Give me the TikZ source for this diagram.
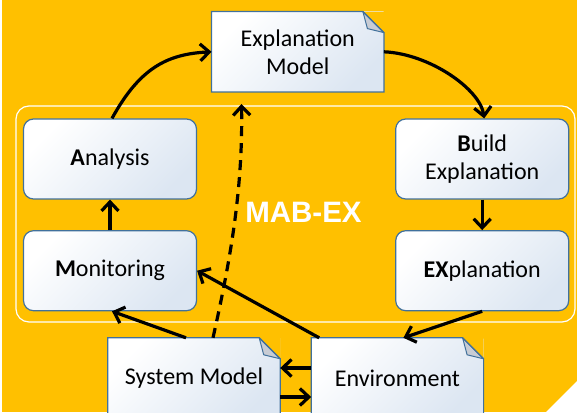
\documentclass[tikz,border=0pt]{standalone}
\usepackage{fontspec}
\setmainfont{Carlito}
\newfontfamily\mabfont{Liberation Sans}
\usetikzlibrary{arrows.meta}

\definecolor{bgorange}{RGB}{255,192,0}
\definecolor{boxline}{RGB}{65,113,156}
\definecolor{boxblue}{RGB}{220,230,242}
\definecolor{foldgrey}{RGB}{200,204,212}

\tikzset{
  box/.style={rectangle, rounded corners=10pt, draw=boxline, line width=1.2pt,
    top color=white, bottom color=boxblue, shading angle=45,
    minimum width=173pt, minimum height=80pt, inner sep=0pt, align=center,
    font=\fontsize{24}{28}\selectfont},
  doc/.style={rectangle, top color=white, bottom color=boxblue, shading angle=45,
    minimum width=172pt, minimum height=80pt, inner sep=0pt, align=center,
    font=\fontsize{24}{28}\selectfont},
  arr/.style={line width=3.2pt, -{Straight Barb[length=9pt,width=17pt]}},
}

\begin{document}
\begin{tikzpicture}[x=1pt,y=1pt]
\useasboundingbox (0,0) rectangle (577,412);
\clip (0,0) rectangle (577,412);

%Background
\fill[bgorange] (0,0) rectangle (577,412);
\fill[white] (0,0) rectangle (1.5,412);
\fill[white] (546,0) -- (577,31) -- (577,0) -- cycle;
%Frame of the loop
\draw[white, line width=1.2pt, rounded corners=13pt] (16,306) rectangle (575,90);

% Loop nodes
\draw (297.7,360.2) node (em) [doc] {Explanation\\Model};
\draw (110,253) node (ana) [box] {\textbf{A}nalysis};
\draw (110,141.3) node (mon) [box] {\textbf{M}onitoring};
\draw (482.2,253) node (bld) [box] {\textbf{B}uild\\Explanation};
\draw (482.2,141.3) node (expl) [box] {\textbf{EX}planation};
\draw (194,34) node (sm) [doc] {System Model};
\draw (397.4,34) node (env) [doc] {Environment};

%Document corners
\foreach \d in {em,sm,env}{
  \fill[bgorange] ([xshift=-21pt]\d.north east) -- (\d.north east) -- ([yshift=-21pt]\d.north east) -- cycle;
  \filldraw[fill=foldgrey, draw=boxline, line width=1pt, line join=round] ([xshift=-21pt]\d.north east) -- ([yshift=-21pt]\d.north east) -- ([xshift=-16.5pt,yshift=-17pt]\d.north east) -- cycle;
  \draw[boxline, line width=1.2pt] (\d.south west) -- (\d.north west) -- ([xshift=-21pt]\d.north east) -- ([yshift=-21pt]\d.north east) -- (\d.south east) -- cycle;
}

% Text Node
\draw (303.5,199.5) node (mab) [font=\mabfont\bfseries\fontsize{29.5}{30}\selectfont, text=white] {MAB-EX};

%Arrows of the loop
\draw[arr] ([xshift=2pt]ana.north) .. controls +(28,51) and +(-43.7,-2.2) .. (em.west);
\draw[arr] (em.east) .. controls +(46,-2) and +(-4,29) .. ([xshift=2pt]bld.north);
\draw[arr] (bld.south) -- (expl.north);
\draw[arr] (mon.north) -- (ana.south);
\draw[arr] (expl.south) -- ([xshift=6pt]env.north);
\draw[arr] ([xshift=8pt]env.north west) -- (mon.east);
\draw[arr] ([xshift=-8pt]sm.north) -- ([xshift=2pt]mon.south);
%Models and environment
\draw[arr] ([yshift=10pt]env.west) -- ([yshift=10pt]sm.east);
\draw[arr] ([yshift=-19pt]sm.east) -- ([yshift=-19pt]env.west);
\coordinate (dtip) at (241.5,308);
\draw[arr, dash pattern=on 10pt off 7pt] ([xshift=19pt]sm.north) .. controls +(17,76) and +(1.5,-86) .. (dtip);

\end{tikzpicture}
\end{document}
